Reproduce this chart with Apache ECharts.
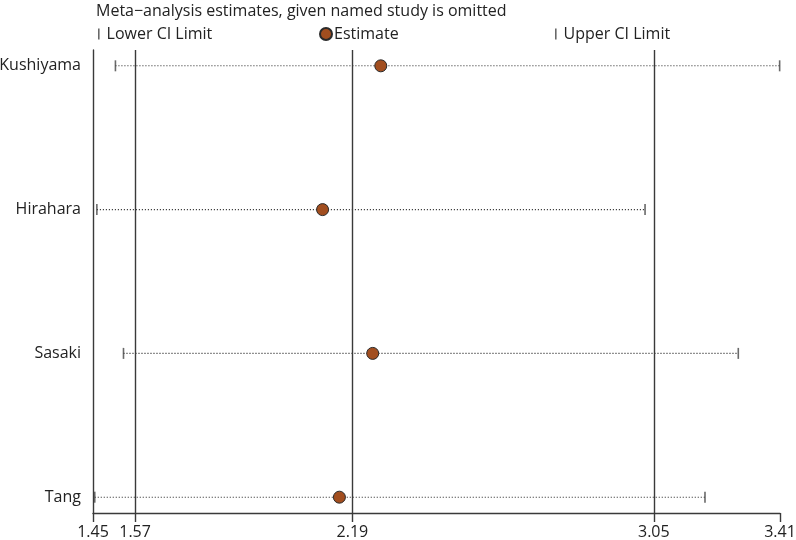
<!DOCTYPE html>
<html>
<head>
<meta charset="utf-8">
<script src="https://cdn.jsdelivr.net/npm/echarts@6/dist/echarts.min.js"></script>
<style>html,body{margin:0;padding:0;background:#fff}#c{width:796px;height:540px}</style>
</head>
<body>
<div id="c"></div>
<script>
const studies = ['Kushiyama', 'Hirahara', 'Sasaki', 'Tang'];
const lowerCI = [1.514, 1.461, 1.537, 1.455];
const estimate = [2.271, 2.105, 2.248, 2.153];
const upperCI = [3.409, 3.025, 3.291, 3.196];
const xTicks = [1.45, 1.57, 2.19, 3.05, 3.41];
const refLines = [1.57, 2.19, 3.05];
const titleText = 'Meta\u2212analysis estimates, given named study is omitted';

const FONT = 'Open Sans';
const rows = studies.map((s, i) => i + 1);

const chart = echarts.init(document.getElementById('c'), null, {renderer: 'canvas'});
chart.setOption({
  animation: false,
  backgroundColor: '#fff',
  textStyle: {fontFamily: FONT},
  title: {
    text: titleText, left: 91, top: -2,
    textStyle: {fontFamily: FONT, fontSize: 16, fontWeight: 'normal', color: '#222'}
  },
  legend: [
    {data: ['Lower CI Limit'], left: 93, top: 21, icon: 'rect', itemWidth: 1.6, itemHeight: 11,
     textStyle: {fontSize: 16, color: '#222', padding: [0, 0, 0, 2]}},
    {data: ['Estimate'], left: 314, top: 21, icon: 'circle', itemWidth: 12, itemHeight: 12,
     textStyle: {fontSize: 16, color: '#222', padding: [0, 0, 0, -3]}},
    {data: ['Upper CI Limit'], left: 550, top: 21, icon: 'rect', itemWidth: 1.6, itemHeight: 11,
     textStyle: {fontSize: 16, color: '#222', padding: [0, 0, 0, 2]}}
  ],
  grid: {left: 93, right: 16, top: 50, bottom: 27, containLabel: false, outerBoundsMode: 'none'},
  xAxis: {
    type: 'value', min: 1.45, max: 3.41,
    axisLine: {show: true, lineStyle: {color: '#3a3a3a', width: 1.4}},
    axisTick: {show: true, length: 9, customValues: xTicks, lineStyle: {color: '#3a3a3a', width: 1.4}},
    axisLabel: {customValues: xTicks, fontSize: 16, color: '#222', margin: 11,
      formatter: v => v.toFixed(2)},
    splitLine: {show: false}
  },
  yAxis: {
    type: 'value', min: 0.89, max: 4.11, inverse: true,
    axisLine: {show: true, lineStyle: {color: '#3a3a3a', width: 1.4}},
    axisTick: {show: false},
    axisLabel: {customValues: rows, fontSize: 16, color: '#222', margin: 12,
      formatter: v => studies[Math.round(v) - 1] || ''},
    splitLine: {show: false}
  },
  series: [
    {
      type: 'custom', name: 'range', silent: true, z: 1,
      data: rows.map((r, i) => [lowerCI[i], r, upperCI[i]]),
      renderItem: function (params, api) {
        const p1 = api.coord([api.value(0), api.value(1)]);
        const p2 = api.coord([api.value(2), api.value(1)]);
        return {type: 'line', shape: {x1: p1[0], y1: p1[1], x2: p2[0], y2: p2[1]},
          style: {stroke: '#222', lineWidth: 1.1, lineDash: [1, 2]}};
      },
      markLine: {
        silent: true, symbol: 'none', label: {show: false},
        lineStyle: {color: '#3a3a3a', width: 1.4, type: 'solid'},
        data: refLines.map(v => ({xAxis: v}))
      }
    },
    {
      type: 'scatter', name: 'Lower CI Limit', z: 3,
      symbol: 'rect', symbolSize: [1.6, 11],
      itemStyle: {color: '#444'},
      data: rows.map((r, i) => [lowerCI[i], r])
    },
    {
      type: 'scatter', name: 'Upper CI Limit', z: 3,
      symbol: 'rect', symbolSize: [1.6, 11],
      itemStyle: {color: '#444'},
      data: rows.map((r, i) => [upperCI[i], r])
    },
    {
      type: 'scatter', name: 'Estimate', z: 4,
      symbol: 'circle', symbolSize: 12,
      itemStyle: {color: '#a24e1f', borderColor: '#2a2a2a', borderWidth: 1, opacity: 1},
      data: rows.map((r, i) => [estimate[i], r])
    }
  ]
});
</script>
</body>
</html>
